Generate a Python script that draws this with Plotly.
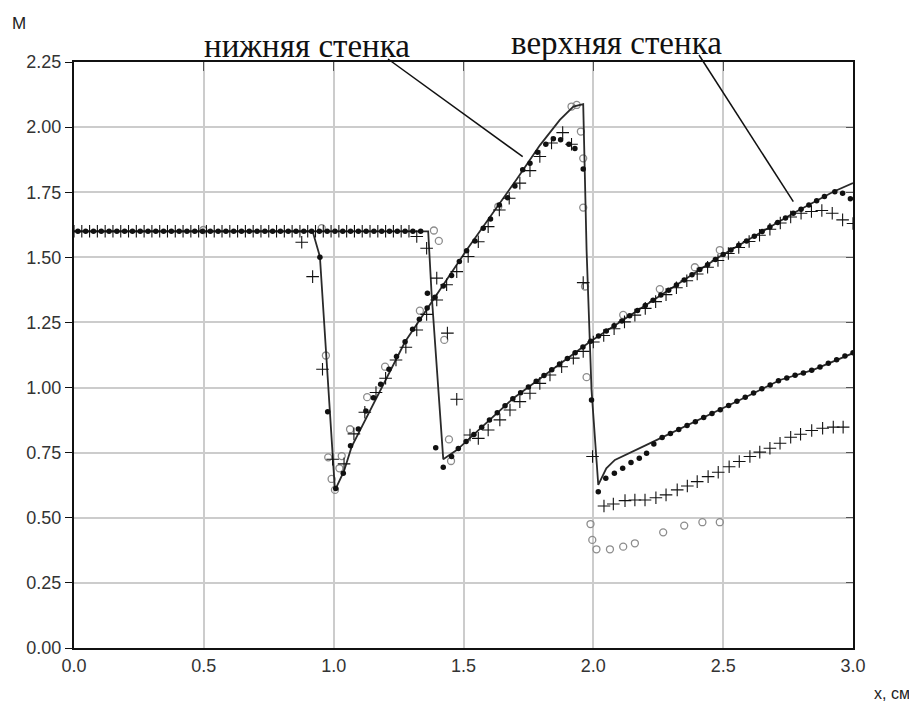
import plotly.graph_objects as go

# ---------------- data ----------------
# solid lines
line_lower_x = [0.0, 0.919, 0.947, 1.005, 1.040, 1.069, 1.275, 1.474, 1.512, 1.705, 1.794, 1.871, 1.923, 1.961,
                1.974, 1.993, 2.019, 2.050, 2.083, 2.205, 2.487, 2.580, 2.719, 2.847, 3.0]
line_lower_y = [1.6, 1.6, 1.503, 0.605, 0.68, 0.772, 1.176, 1.47, 1.528, 1.80, 1.93, 2.028, 2.079, 2.088,
                1.528, 0.991, 0.626, 0.690, 0.722, 0.78, 0.914, 0.96, 1.029, 1.068, 1.132]

line_upper_x = [0.0, 1.364, 1.377, 1.422, 1.474, 1.692, 1.987, 2.487, 2.770, 2.924, 3.0]
line_upper_y = [1.6, 1.6, 1.362, 0.725, 0.760, 0.959, 1.176, 1.503, 1.669, 1.752, 1.785]

# filled dots
dots_upper_x = [0.015, 0.045, 0.075, 0.105, 0.135, 0.165, 0.195, 0.225, 0.255, 0.285, 0.315, 0.345, 0.375, 0.405,
                0.435, 0.465, 0.495, 0.525, 0.555, 0.585, 0.615, 0.645, 0.675, 0.705, 0.735, 0.765, 0.795, 0.825,
                0.855, 0.885, 0.915, 0.945, 0.975, 1.005, 1.035, 1.065, 1.095, 1.125, 1.155, 1.185, 1.215, 1.245,
                1.275, 1.305, 1.335,
                1.361, 1.393, 1.422, 1.454,
                1.48, 1.51, 1.54, 1.57, 1.60, 1.63, 1.66, 1.69, 1.72, 1.75, 1.78, 1.81, 1.84, 1.87, 1.90, 1.93,
                1.96, 1.99, 2.02, 2.05, 2.08, 2.11, 2.14, 2.17, 2.20, 2.23, 2.26, 2.29, 2.32, 2.35, 2.38, 2.41,
                2.44, 2.47, 2.50, 2.53, 2.56, 2.59, 2.62, 2.65, 2.68, 2.71, 2.74, 2.77, 2.80, 2.83, 2.86, 2.89,
                2.93, 2.96, 2.99]
dots_upper_y = [1.6, 1.6, 1.6, 1.6, 1.6, 1.6, 1.6, 1.6, 1.6, 1.6, 1.6, 1.6, 1.6, 1.6,
                1.6, 1.6, 1.6, 1.6, 1.6, 1.6, 1.6, 1.6, 1.6, 1.6, 1.6, 1.6, 1.6, 1.6,
                1.6, 1.6, 1.6, 1.6, 1.6, 1.6, 1.6, 1.6, 1.6, 1.6, 1.6, 1.6, 1.6, 1.6,
                1.6, 1.6, 1.6,
                1.362, 0.769, 0.694, 0.735,
                0.766, 0.793, 0.820, 0.848, 0.875, 0.903, 0.930, 0.957, 0.980, 1.002, 1.024, 1.046, 1.068, 1.090,
                1.112, 1.134, 1.156, 1.178, 1.198, 1.217, 1.237, 1.256, 1.276, 1.296, 1.315, 1.335, 1.355, 1.374,
                1.394, 1.413, 1.433, 1.453, 1.472, 1.492, 1.511, 1.528, 1.546, 1.563, 1.581, 1.599, 1.616, 1.634,
                1.651, 1.669, 1.685, 1.701, 1.717, 1.734, 1.752, 1.746, 1.725]

dots_lower_x = [0.947, 0.977, 1.008, 1.037, 1.065, 1.095, 1.124, 1.153, 1.181, 1.213, 1.242, 1.275, 1.304, 1.330,
                1.360, 1.390, 1.422, 1.454, 1.484, 1.512, 1.544, 1.576, 1.604, 1.638, 1.670, 1.698, 1.728, 1.756,
                1.785, 1.817, 1.846, 1.874, 1.906, 1.929, 1.961, 1.993, 2.019, 2.048, 2.081, 2.113, 2.145, 2.177,
                2.205, 2.233, 2.265, 2.297, 2.329, 2.361, 2.393, 2.425, 2.457, 2.489, 2.521, 2.553, 2.585, 2.617,
                2.649, 2.681, 2.713, 2.745, 2.777, 2.809, 2.841, 2.873, 2.905, 2.937, 2.969, 3.0]
dots_lower_y = [1.50, 0.907, 0.612, 0.671, 0.777, 0.841, 0.910, 0.961, 1.013, 1.070, 1.119, 1.176, 1.224, 1.262,
                1.305, 1.347, 1.390, 1.430, 1.484, 1.525, 1.563, 1.612, 1.647, 1.701, 1.729, 1.774, 1.836, 1.861,
                1.903, 1.934, 1.955, 1.951, 1.934, 1.918, 1.839, 0.952, 0.600, 0.652, 0.671, 0.690, 0.712, 0.729,
                0.748, 0.783, 0.808, 0.824, 0.839, 0.854, 0.869, 0.885, 0.900, 0.915, 0.931, 0.947, 0.963, 0.979,
                0.995, 1.010, 1.026, 1.037, 1.047, 1.056, 1.066, 1.079, 1.093, 1.107, 1.121, 1.134]

# crosses
plus_upper_x = [0.0, 0.03, 0.06, 0.09, 0.12, 0.15, 0.18, 0.21, 0.24, 0.27, 0.30, 0.33, 0.36, 0.39, 0.42, 0.45,
                0.48, 0.51, 0.54, 0.57, 0.60, 0.63, 0.66, 0.69, 0.72, 0.75, 0.78, 0.81, 0.84, 0.87, 0.90, 0.93,
                0.96, 0.99, 1.02, 1.05, 1.08, 1.11, 1.14, 1.17, 1.20, 1.23, 1.26, 1.29,
                1.320, 1.358, 1.397, 1.438, 1.474,
                1.525, 1.557, 1.595, 1.640, 1.679, 1.717, 1.756, 1.794, 1.833, 1.878, 1.923, 1.961,
                2.00, 2.04, 2.08, 2.12, 2.16, 2.20, 2.24, 2.28, 2.32, 2.36, 2.40, 2.44, 2.48, 2.52, 2.56, 2.60,
                2.64, 2.68, 2.72, 2.76, 2.80, 2.84, 2.88, 2.92, 2.96, 3.0]
plus_upper_y = [1.6, 1.6, 1.6, 1.6, 1.6, 1.6, 1.6, 1.6, 1.6, 1.6, 1.6, 1.6, 1.6, 1.6, 1.6, 1.6,
                1.6, 1.6, 1.6, 1.6, 1.6, 1.6, 1.6, 1.6, 1.6, 1.6, 1.6, 1.6, 1.6, 1.6, 1.6, 1.6,
                1.6, 1.6, 1.6, 1.6, 1.6, 1.6, 1.6, 1.6, 1.6, 1.6, 1.6, 1.6,
                1.580, 1.535, 1.420, 1.209, 0.955,
                0.818, 0.805, 0.837, 0.876, 0.914, 0.946, 0.978, 1.016, 1.048, 1.080, 1.113, 1.139,
                1.175, 1.200, 1.226, 1.252, 1.278, 1.304, 1.330, 1.357, 1.383, 1.410, 1.436, 1.462, 1.488, 1.515,
                1.538, 1.561, 1.585, 1.608, 1.632, 1.655, 1.669, 1.676, 1.680, 1.669, 1.644, 1.630]

plus_lower_x = [0.877, 0.919, 0.957, 0.996, 1.040, 1.078, 1.120, 1.163, 1.200, 1.240, 1.278, 1.320, 1.358, 1.397,
                1.435, 1.474, 1.518, 1.557, 1.595, 1.638, 1.676, 1.717, 1.756, 1.794, 1.839, 1.882, 1.916, 1.961,
                1.997, 2.041, 2.077, 2.122, 2.160, 2.199, 2.241, 2.280, 2.323, 2.362, 2.400, 2.442, 2.481, 2.523,
                2.562, 2.603, 2.641, 2.680, 2.719, 2.760, 2.798, 2.841, 2.883, 2.924, 2.962]
plus_lower_y = [1.558, 1.426, 1.070, 0.725, 0.707, 0.822, 0.905, 0.981, 1.036, 1.106, 1.155, 1.221, 1.281, 1.336,
                1.395, 1.445, 1.503, 1.560, 1.618, 1.682, 1.727, 1.785, 1.833, 1.887, 1.939, 1.979, 1.934, 1.403,
                0.735, 0.545, 0.553, 0.566, 0.568, 0.568, 0.577, 0.588, 0.607, 0.622, 0.639, 0.658, 0.675, 0.696,
                0.716, 0.735, 0.752, 0.767, 0.786, 0.809, 0.821, 0.835, 0.844, 0.848, 0.848]

# open circles
circ_lower_x = [0.498, 0.954, 0.970, 0.979, 0.992, 1.005, 1.022, 1.031, 1.063, 1.129, 1.198, 1.332, 1.634, 1.916,
                1.936, 1.952, 1.961, 1.961, 1.968, 1.974, 1.989, 1.996, 2.012, 2.064, 2.115, 2.160, 2.269, 2.350,
                2.420, 2.487]
circ_lower_y = [1.605, 1.612, 1.123, 0.732, 0.649, 0.607, 0.690, 0.737, 0.840, 0.963, 1.080, 1.295, 1.695, 2.079,
                2.085, 1.983, 1.880, 1.691, 1.388, 1.040, 0.476, 0.415, 0.379, 0.379, 0.389, 0.402, 0.444, 0.470,
                0.483, 0.483]

circ_upper_x = [1.386, 1.405, 1.426, 1.444, 1.452, 2.115, 2.256, 2.391, 2.487]
circ_upper_y = [1.603, 1.563, 1.183, 0.801, 0.718, 1.279, 1.378, 1.462, 1.528]

x_tick_vals = [0.0, 0.5, 1.0, 1.5, 2.0, 2.5, 3.0]
x_tick_text = ["0.0", "0.5", "1.0", "1.5", "2.0", "2.5", "3.0"]
y_tick_vals = [0.0, 0.25, 0.5, 0.75, 1.0, 1.25, 1.5, 1.75, 2.0, 2.25]
y_tick_text = ["0.00", "0.25", "0.50", "0.75", "1.00", "1.25", "1.50", "1.75", "2.00", "2.25"]

label_lower = "нижняя стенка"
label_upper = "верхняя стенка"
y_title = "M"
x_title = "x, см"

# ---------------- figure ----------------
fig = go.Figure()

line_style = dict(color="#2a2a2a", width=1.8)
dot_style = dict(symbol="circle", size=5.5, color="#111111")
plus_style = dict(symbol="cross-thin", size=9, color="#111111", line=dict(color="#111111", width=1.1))
circ_style = dict(symbol="circle-open", size=7, color="#8c8c8c", line=dict(color="#8c8c8c", width=1.3))

fig.add_trace(go.Scatter(x=circ_lower_x, y=circ_lower_y, mode="markers", marker=circ_style))
fig.add_trace(go.Scatter(x=circ_upper_x, y=circ_upper_y, mode="markers", marker=circ_style))
fig.add_trace(go.Scatter(x=line_lower_x, y=line_lower_y, mode="lines", line=line_style))
fig.add_trace(go.Scatter(x=line_upper_x, y=line_upper_y, mode="lines", line=line_style))
fig.add_trace(go.Scatter(x=plus_upper_x, y=plus_upper_y, mode="markers", marker=plus_style))
fig.add_trace(go.Scatter(x=plus_lower_x, y=plus_lower_y, mode="markers", marker=plus_style))
fig.add_trace(go.Scatter(x=dots_upper_x, y=dots_upper_y, mode="markers", marker=dot_style))
fig.add_trace(go.Scatter(x=dots_lower_x, y=dots_lower_y, mode="markers", marker=dot_style))
# helper trace so that the mirrored (inner-tick) axes are drawn
fig.add_trace(go.Scatter(x=[None], y=[None], xaxis="x2", yaxis="y2", mode="markers", hoverinfo="skip"))

tick_font = dict(family="Liberation Sans, Arial, sans-serif", size=18, color="#333333")

# the page places the figure 8 px from the window corner; margins compensate for that
fig.update_layout(
    width=917, height=701,
    margin=dict(l=66, r=72, t=54, b=61),
    paper_bgcolor="white", plot_bgcolor="white",
    showlegend=False,
    xaxis=dict(range=[0, 3], tickvals=x_tick_vals, ticktext=x_tick_text, tickfont=tick_font,
               showgrid=True, gridcolor="#cccccc", gridwidth=1.8, zeroline=False,
               showline=True, linecolor="#111111", linewidth=2, mirror=True,
               ticks=""),
    yaxis=dict(range=[0, 2.25], tickvals=y_tick_vals, ticktext=y_tick_text, tickfont=tick_font,
               showgrid=True, gridcolor="#cccccc", gridwidth=1.8, zeroline=False,
               showline=True, linecolor="#111111", linewidth=2, mirror=True,
               ticks="outside", ticklen=7, tickcolor="#111111", tickwidth=1),
    xaxis2=dict(range=[0, 3], overlaying="x", side="top", tickvals=x_tick_vals, showticklabels=False,
                ticks="inside", ticklen=9, tickcolor="#555555", tickwidth=1, showgrid=False, zeroline=False),
    yaxis2=dict(range=[0, 2.25], overlaying="y", side="right", tickvals=y_tick_vals, showticklabels=False,
                ticks="inside", ticklen=7, tickcolor="#555555", tickwidth=1, showgrid=False, zeroline=False),
)

serif = dict(family="Liberation Serif, Times New Roman, serif", size=33, color="#111111")
fig.add_annotation(text=label_lower, xref="paper", yref="paper", x=0.2987, y=1.0, xanchor="center",
                   yanchor="bottom", showarrow=False, font=serif, yshift=-4)
fig.add_annotation(text=label_upper, xref="paper", yref="paper", x=0.697, y=1.0, xanchor="center",
                   yanchor="bottom", showarrow=False, font=serif, yshift=-1)
fig.add_annotation(text=y_title, xref="paper", yref="paper", x=-0.0706, y=1.065, xanchor="center",
                   yanchor="middle", showarrow=False,
                   font=dict(family="Liberation Sans, Arial, sans-serif", size=17, color="#222222"))
fig.add_annotation(text=x_title, xref="paper", yref="paper", x=1.05, y=-0.077, xanchor="center",
                   yanchor="middle", showarrow=False,
                   font=dict(family="Liberation Sans, Arial, sans-serif", size=16, color="#222222"))

fig.add_shape(type="line", xref="paper", yref="paper", x0=0.4031, y0=1.0051, x1=0.576, y1=0.8384,
              line=dict(color="#111111", width=1.5))
fig.add_shape(type="line", xref="paper", yref="paper", x0=0.8023, y0=1.0119, x1=0.9234, y1=0.7616,
              line=dict(color="#111111", width=1.5))

fig.write_html("out.html")
